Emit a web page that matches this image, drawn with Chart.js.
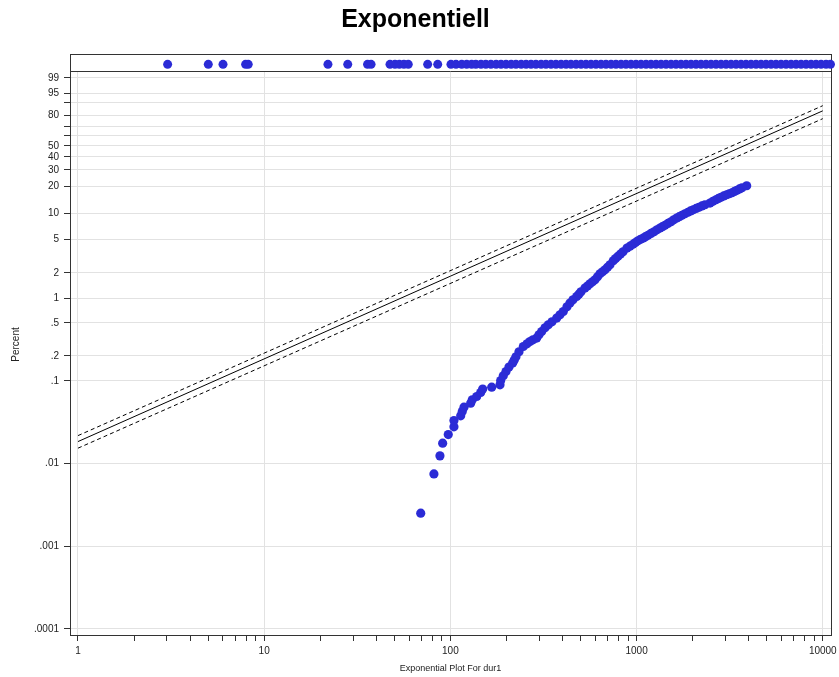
<!DOCTYPE html>
<html><head><meta charset="utf-8">
<script src="https://cdn.jsdelivr.net/npm/chart.js@4.4.1/dist/chart.umd.min.js"></script>
<style>html,body{margin:0;padding:0;background:#fff;} #wrap{width:839px;height:677px;}</style>
</head><body><div id="wrap"><canvas id="c" width="839" height="677"></canvas></div>
<script>
// ---- data ----
const failX = [69.3, 81.6, 87.9, 90.9, 97.4, 104.5, 104.5, 113.6, 115.8, 118.3,
  128.5, 131.1, 138.5, 145.5, 149.1, 166.7, 184.7, 186.3, 192.4, 198.9,
  206.4, 216.0, 220.3, 225.0, 233.6, 246.4, 257.9, 267.6, 277.7, 290.7, 299.1,
  309.3, 322.2, 335.6, 351.3, 372.4, 387.8, 404.0, 422.9, 438.8, 455.4,
  476.8, 489.9, 502.8, 528.3, 544.8, 561.9, 579.8, 597.8, 617.0, 636.0, 656.0, 676.6, 698.0, 719.5,
  749.6, 771.4, 794.6, 819.5, 845.3, 888.3, 921.8, 956.6, 986.5, 1017, 1051, 1087, 1117, 1152, 1195,
  1240, 1287, 1336, 1377, 1421, 1474, 1530, 1584, 1642, 1696, 1753, 1819, 1888, 1950, 2016, 2090,
  2163, 2244, 2330, 2479, 2572, 2669, 2754, 2840, 2940, 3047, 3147, 3253, 3356, 3461, 3569, 3682, 3902];
const failPct = [0.00251, 0.0075, 0.01239, 0.01765, 0.02243, 0.0278, 0.0331, 0.0378, 0.0426, 0.0481,
  0.0538, 0.0590, 0.0647, 0.0723, 0.0795, 0.0840, 0.0896, 0.1009, 0.1150, 0.1296,
  0.1466, 0.1639, 0.1786, 0.1952, 0.2243, 0.2600, 0.2803, 0.2989, 0.3133, 0.3285, 0.3601,
  0.3947, 0.4374, 0.4755, 0.5170, 0.5727, 0.6275, 0.6879, 0.7837, 0.8686, 0.9517,
  1.043, 1.1115, 1.188, 1.316, 1.3949, 1.482, 1.566, 1.656, 1.799, 1.954, 2.0649, 2.182, 2.338, 2.504,
  2.796, 2.968, 3.163, 3.359, 3.575, 3.957, 4.169, 4.390, 4.598, 4.828, 5.015, 5.197, 5.395, 5.605, 5.885,
  6.160, 6.485, 6.805, 7.068, 7.338, 7.701, 8.061, 8.480, 8.894, 9.231, 9.578, 9.966, 10.37, 10.73, 11.07, 11.46,
  11.83, 12.23, 12.62, 13.19, 13.78, 14.36, 14.85, 15.32, 15.83, 16.33, 16.75, 17.18, 17.75, 18.29, 18.90, 19.48, 20.47];
const censX = [3.03, 5.01, 6.01, 7.95, 8.21, 22.0, 28.1, 35.9, 37.5, 47.4, 50.4, 53.2, 56.3, 59.4,
  75.5, 85.5, 100.7, 107.2, 115.0, 122.3,
  130, 137, 146, 155, 165, 176, 187, 199, 212, 225, 240, 255, 271, 288, 307, 326, 347, 369, 393, 418,
  444, 473, 503, 535, 569, 605, 644, 685, 729, 775, 825, 877, 933, 993, 1056, 1124, 1195, 1272, 1353, 1439,
  1531, 1628, 1732, 1843, 1960, 2085, 2218, 2360, 2510, 2670, 2841, 3022, 3215, 3420, 3638, 3870, 4117, 4380,
  4659, 4956, 5273, 5609, 5967, 6348, 6753, 7184, 7642, 8130, 8648, 9200, 9787, 10412, 11000];
const fitX = [1, 10000];
const fitPct = [0.01845, 84.2];
const upperPct = [0.02178, 88.1];
const lowerPct = [0.01535, 77.3];
const yTickPct = [99, 95, 90, 80, 70, 60, 50, 40, 30, 20, 10, 5, 2, 1, 0.5, 0.2, 0.1, 0.01, 0.001, 0.0001];
const yTickLabels = ['99', '95', '', '80', '', '', '50', '40', '30', '20', '10', '5', '2', '1', '.5', '.2', '.1', '.01', '.001', '.0001'];
const xTickValues = [1, 2, 3, 4, 5, 6, 7, 8, 9, 10, 20, 30, 40, 50, 60, 70, 80, 90,
  100, 200, 300, 400, 500, 600, 700, 800, 900, 1000, 2000, 3000, 4000, 5000, 6000, 7000, 8000, 9000, 10000];
const xMajorLabels = ['1', '10', '100', '1000', '10000'];

// ---- exponential probability scale: log10(-ln(1-p)) ----
const T = p => Math.log10(-Math.log(1 - p / 100));
class ExpProbScale extends Chart.Scale {
  determineDataLimits() { this.min = this.options.min; this.max = this.options.max; }
  buildTicks() { return yTickPct.map(v => ({ value: v })); }
  getLabelForValue(v) { return String(v); }
  configure() { super.configure(); this._tmin = T(this.min); this._tmax = T(this.max); }
  getPixelForValue(v) { return this.getPixelForDecimal((T(v) - this._tmin) / (this._tmax - this._tmin)); }
  getValueForPixel(px) {
    const t = this._tmin + this.getDecimalForPixel(px) * (this._tmax - this._tmin);
    return 100 * (1 - Math.exp(-Math.pow(10, t)));
  }
}
ExpProbScale.id = 'expprob';
ExpProbScale.defaults = {};
Chart.register(ExpProbScale);

const FONT = 'Liberation Sans, Arial, sans-serif';
const STRIP_ROW = 99.88, STRIP_LINE = 99.643;
const pts = (xs, ps) => xs.map((x, i) => ({ x: x, y: ps[i] }));

const stripPlugin = {
  id: 'strip',
  beforeDatasetsDraw(chart) {
    const { ctx, chartArea: a, scales: { y } } = chart;
    const ly = Math.round(y.getPixelForValue(STRIP_LINE)) + 0.5;
    ctx.save();
    ctx.fillStyle = '#fff';
    ctx.fillRect(a.left + 1, a.top, a.right - a.left - 1, ly - a.top);
    ctx.strokeStyle = '#333';
    ctx.lineWidth = 1;
    ctx.beginPath();
    ctx.moveTo(a.left, ly); ctx.lineTo(a.right, ly);
    ctx.stroke();
    ctx.strokeRect(Math.round(a.left) + 0.5, Math.round(a.top) + 0.5, Math.round(a.right - a.left), Math.round(a.bottom - a.top));
    ctx.restore();
  }
};

const BLUE = '#2b2bd6';
new Chart(document.getElementById('c'), {
  type: 'scatter',
  data: {
    datasets: [
      { type: 'line', data: pts(fitX, fitPct), borderColor: '#000', borderWidth: 1, pointRadius: 0, fill: false },
      { type: 'line', data: pts(fitX, upperPct), borderColor: '#000', borderWidth: 1, borderDash: [4, 3], pointRadius: 0, fill: false },
      { type: 'line', data: pts(fitX, lowerPct), borderColor: '#000', borderWidth: 1, borderDash: [4, 3], pointRadius: 0, fill: false },
      { data: pts(failX, failPct), backgroundColor: BLUE, borderColor: BLUE, borderWidth: 0, pointRadius: 4.6, clip: false },
      { data: censX.map(x => ({ x: x, y: STRIP_ROW })), backgroundColor: BLUE, borderColor: BLUE, borderWidth: 0, pointRadius: 4.5, clip: false }
    ]
  },
  options: {
    responsive: false,
    animation: false,
    devicePixelRatio: 1,
    layout: { padding: { left: 0, right: 8, top: 0, bottom: 0 } },
    plugins: {
      legend: { display: false },
      tooltip: { enabled: false },
      title: {
        display: true, text: 'Exponentiell', color: '#000',
        font: { family: FONT, size: 25, weight: 'bold', lineHeight: 1.2 },
        padding: { top: 5, bottom: 19 }
      }
    },
    scales: {
      x: {
        type: 'logarithmic', min: 0.906, max: 11070,
        afterBuildTicks: s => { s.ticks = xTickValues.map(v => ({ value: v, major: xMajorLabels.includes(String(v)) })); },
        afterFit: s => { s.height = 42; s.paddingLeft = 0; s.paddingRight = 0; },
        ticks: {
          autoSkip: false, maxRotation: 0, padding: 4, color: '#222',
          font: { family: FONT, size: 10 },
          callback: v => xMajorLabels.includes(String(v)) ? String(v) : ''
        },
        grid: {
          color: c => (c.tick && xMajorLabels.includes(String(c.tick.value))) ? '#e2e2e2' : 'rgba(0,0,0,0)',
          tickColor: '#333', tickLength: 6, drawTicks: true
        },
        border: { color: '#333', width: 1 },
        title: { display: true, text: 'Exponential Plot For dur1', color: '#222', font: { family: FONT, size: 9 }, padding: { top: 0, bottom: 3 } }
      },
      y: {
        type: 'expprob', min: 0.0000845, max: 99.98737,
        afterFit: s => { s.width = 70; s.paddingTop = 0; s.paddingBottom = 0; },
        ticks: {
          autoSkip: false, padding: 5, color: '#222',
          font: { family: FONT, size: 10 },
          callback: (v, i) => yTickLabels[i]
        },
        grid: { color: '#e2e2e2', tickColor: '#333', tickLength: 6 },
        border: { color: '#333', width: 1 },
        title: { display: true, text: 'Percent', color: '#222', font: { family: FONT, size: 10 }, padding: { top: 10, bottom: 0 } }
      }
    }
  },
  plugins: [stripPlugin]
});
</script>
</body></html>
